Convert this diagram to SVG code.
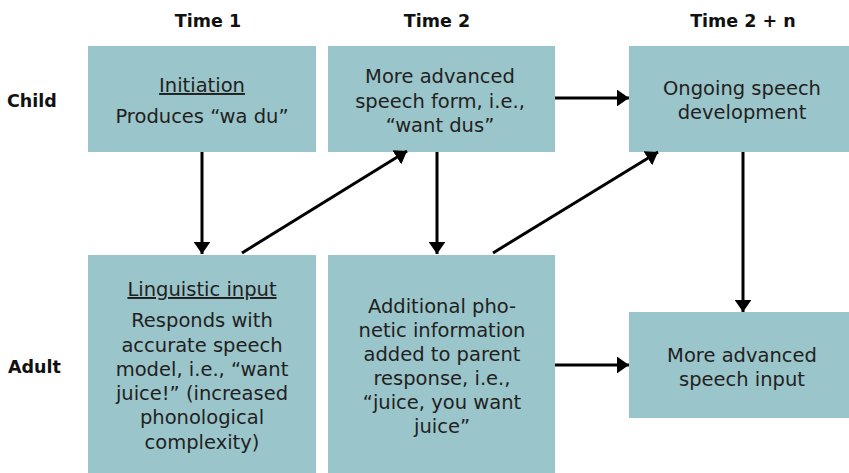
<svg xmlns="http://www.w3.org/2000/svg" width="849" height="473" viewBox="0 0 849 473">
  <style>
    .box { fill: #99c5cb; }
    .hdr { font-family: "DejaVu Sans", "Liberation Sans", sans-serif; font-weight: bold; font-size: 17.5px; fill: #111; text-anchor: middle; }
    .lbl { font-family: "DejaVu Sans", "Liberation Sans", sans-serif; font-weight: bold; font-size: 17.5px; fill: #111; }
    .txt { font-family: "DejaVu Sans", "Liberation Sans", sans-serif; font-size: 19.5px; fill: #231f20; text-anchor: middle; }
    .u { text-decoration: underline; }
    .conn line { stroke: #000; stroke-width: 3; fill: none; }
  </style>
  <defs>
    <marker id="arrow" viewBox="0 0 10 14" refX="10" refY="7" markerWidth="4" markerHeight="5.6" orient="auto" markerUnits="strokeWidth">
      <path d="M0,0 L10,7 L0,14 Z" fill="#000"/>
    </marker>
  </defs>

  <!-- column headers -->
  <g id="headers">
    <text class="hdr" x="208" y="27">Time 1</text>
    <text class="hdr" x="437" y="27">Time 2</text>
    <text class="hdr" x="743" y="27">Time 2 + n</text>
  </g>

  <!-- row labels -->
  <g id="rows">
    <text class="lbl" x="7" y="107">Child</text>
    <text class="lbl" x="8" y="373">Adult</text>
  </g>

  <g id="initiation">
    <rect class="box" x="88" y="46" width="228" height="106"/>
    <text class="txt" x="202" y="92"><tspan class="u">Initiation</tspan></text>
    <text class="txt" x="202" y="123">Produces “wa du”</text>
  </g>

  <g id="advanced-form">
    <rect class="box" x="328" y="46" width="227" height="106"/>
    <text class="txt" x="440" y="83">More advanced</text>
    <text class="txt" x="440" y="108">speech form, i.e.,</text>
    <text class="txt" x="440" y="132">“want dus”</text>
  </g>

  <g id="ongoing">
    <rect class="box" x="629" y="46" width="220" height="106"/>
    <text class="txt" x="742" y="95">Ongoing speech</text>
    <text class="txt" x="742" y="119">development</text>
  </g>

  <g id="linguistic-input">
    <rect class="box" x="88" y="255" width="228" height="218"/>
    <text class="txt" x="202" y="296"><tspan class="u">Linguistic input</tspan></text>
    <text class="txt" x="202" y="327">Responds with</text>
    <text class="txt" x="202" y="352">accurate speech</text>
    <text class="txt" x="202" y="376">model, i.e., “want</text>
    <text class="txt" x="202" y="400">juice!” (increased</text>
    <text class="txt" x="202" y="424">phonological</text>
    <text class="txt" x="202" y="449">complexity)</text>
  </g>

  <g id="additional-info">
    <rect class="box" x="328" y="255" width="227" height="218"/>
    <text class="txt" x="442" y="313">Additional pho-</text>
    <text class="txt" x="442" y="337">netic information</text>
    <text class="txt" x="442" y="361">added to parent</text>
    <text class="txt" x="442" y="385">response, i.e.,</text>
    <text class="txt" x="442" y="409">“juice, you want</text>
    <text class="txt" x="442" y="433">juice”</text>
  </g>

  <g id="advanced-input">
    <rect class="box" x="629" y="312" width="220" height="106"/>
    <text class="txt" x="742" y="362">More advanced</text>
    <text class="txt" x="742" y="386">speech input</text>
  </g>

  <!-- connectors -->
  <g id="connectors" class="conn">
    <line x1="202" y1="152" x2="202" y2="254" marker-end="url(#arrow)"/>
    <line x1="242" y1="253" x2="407" y2="151" marker-end="url(#arrow)"/>
    <line x1="437" y1="152" x2="437" y2="254" marker-end="url(#arrow)"/>
    <line x1="493" y1="253" x2="658" y2="152" marker-end="url(#arrow)"/>
    <line x1="555" y1="98" x2="629" y2="98" marker-end="url(#arrow)"/>
    <line x1="743" y1="152" x2="743" y2="312" marker-end="url(#arrow)"/>
    <line x1="555" y1="365" x2="629" y2="365" marker-end="url(#arrow)"/>
  </g>
</svg>
